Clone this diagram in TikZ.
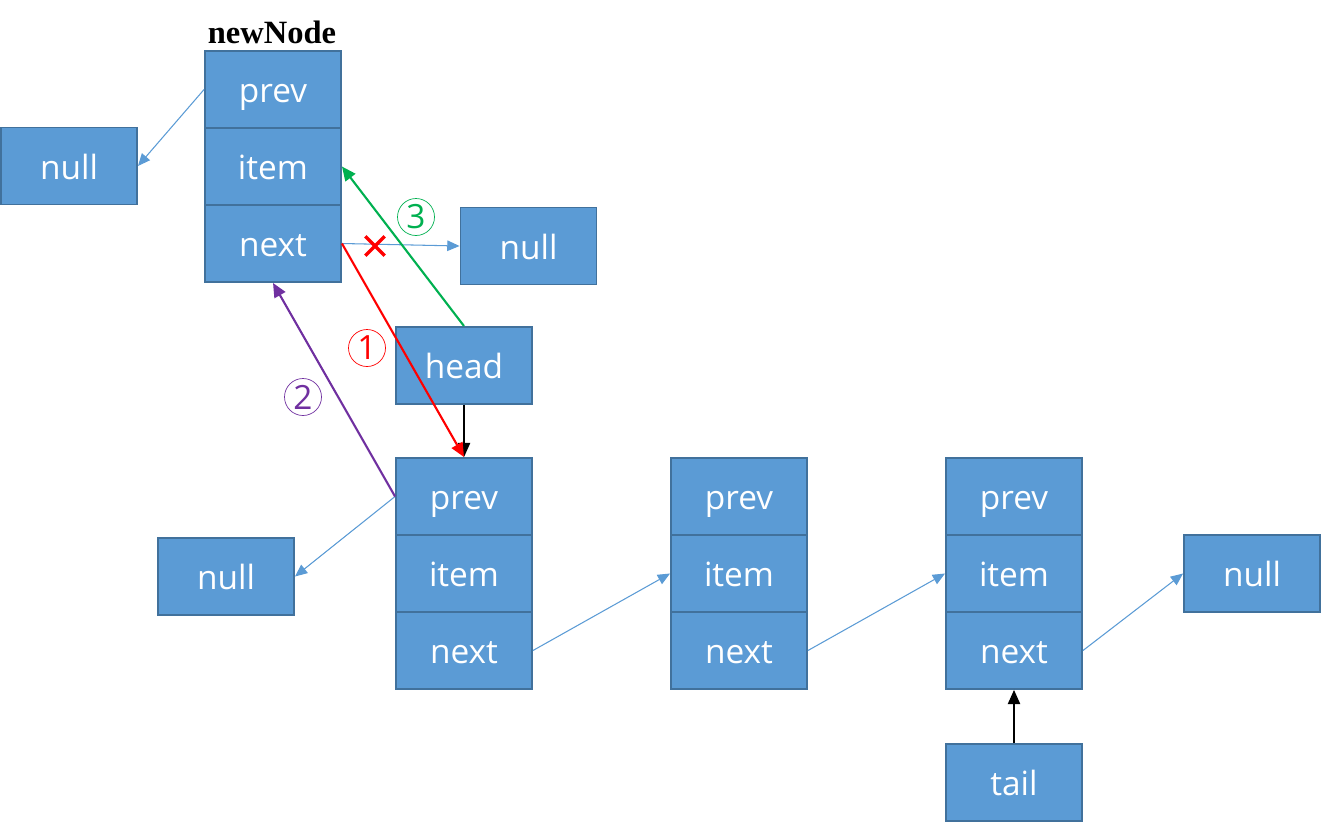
\documentclass[tikz,border=0pt]{standalone}
\usepackage{fontspec}
\setmainfont{Open Sans}
\newfontfamily\serifbold{Liberation Serif}
\usetikzlibrary{arrows.meta,shapes.misc}
\definecolor{boxfill}{HTML}{5B9BD5}
\definecolor{boxline}{HTML}{41719C}
\definecolor{linkblue}{HTML}{5B9BD5}
\definecolor{stepgreen}{HTML}{00B050}
\definecolor{steppurple}{HTML}{7030A0}
\begin{document}
\begin{tikzpicture}[x=0.02cm,y=-0.02cm,
  cell/.style={draw=boxline, fill=boxfill, line width=1.1pt, minimum width=2.72cm, minimum height=1.54cm, inner sep=0pt, text height=0.52cm, text depth=0pt, text=white, font=\fontsize{19}{22}\selectfont},
  link/.style={draw=linkblue, line width=0.6pt, -{Triangle[length=7pt,width=6pt]}},
  strong/.style={line width=1.2pt, -{Triangle[length=8pt,width=7pt]}},
  numc/.style={circle, draw=#1, text=#1, line width=0.4pt, minimum size=0.74cm, inner sep=0pt, font=\fontsize{19}{19}\selectfont}
]
\useasboundingbox (0,0) rectangle (1321,829);
% newNode
\node[font=\serifbold\bfseries\fontsize{18.5}{20}\selectfont] (lbl) at (272,32) {newNode};
\node[cell] (n0p) at (273,89.5) {prev};
\node[cell] (n0i) at (273,166.5) {item};
\node[cell] (n0n) at (273,243.5) {next};
% nulls
\node[cell] (nullA) at (69,166) {null};
\node[cell] (nullB) at (528.5,246) {null};
\node[cell] (nullC) at (226,576.5) {null};
\node[cell] (nullD) at (1252,573.5) {null};
% head and tail
\node[cell] (head) at (464,365.5) {head};
\node[cell] (tail) at (1014,782.5) {tail};
% list nodes
\node[cell] (n1p) at (464,496.5) {prev};
\node[cell] (n1i) at (464,573.5) {item};
\node[cell] (n1n) at (464,650.5) {next};
\node[cell] (n2p) at (739,496.5) {prev};
\node[cell] (n2i) at (739,573.5) {item};
\node[cell] (n2n) at (739,650.5) {next};
\node[cell] (n3p) at (1014,496.5) {prev};
\node[cell] (n3i) at (1014,573.5) {item};
\node[cell] (n3n) at (1014,650.5) {next};
% thin links
\draw[link] (n0p.west) -- (nullA.east);
\draw[link] (n0n.east) -- (nullB.west);
\draw[link] (n1p.west) -- (nullC.east);
\draw[link] (n1n.east) -- (n2i.west);
\draw[link] (n2n.east) -- (n3i.west);
\draw[link] (n3n.east) -- (nullD.west);
% black pointers
\draw[line width=0.6pt, -{Triangle[length=8pt,width=7pt]}] (head.south) -- (n1p.north);
\draw[line width=0.6pt, -{Triangle[length=8pt,width=7pt]}] (tail.north) -- (n3n.south);
% steps
\draw[strong, red] (n0n.east) -- (n1p.north);
\draw[strong, steppurple] (n1p.west) -- (n0n.south);
\draw[strong, stepgreen] (head.north) -- (n0i.east);
% cross
\node[cross out, draw=red, line width=2pt, minimum size=9pt, inner sep=0pt] (cut) at (375,246) {};
% step numbers
\node[numc=red] (s1) at (367,348) {1};
\node[numc=steppurple] (s2) at (303,397) {2};
\node[numc=stepgreen] (s3) at (416,217) {3};
\end{tikzpicture}
\end{document}
